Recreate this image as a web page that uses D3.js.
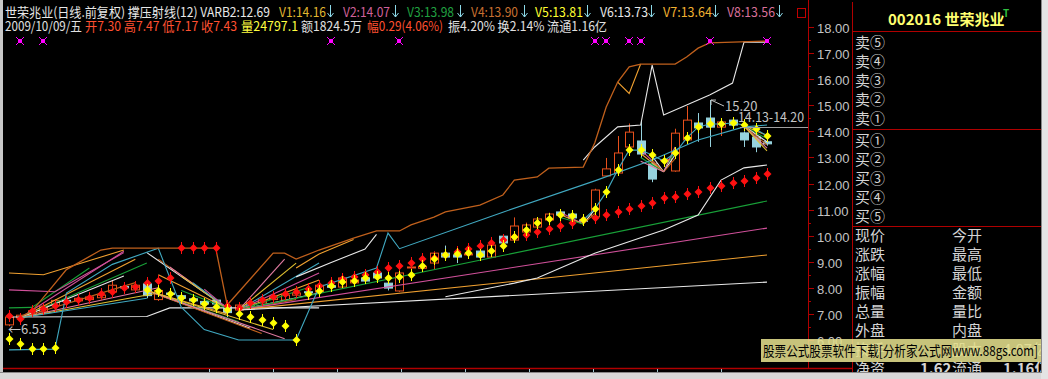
<!DOCTYPE html>
<html>
<head>
<meta charset="utf-8">
<script src="https://cdn.jsdelivr.net/npm/d3@7"></script>
<style>
  html, body { margin: 0; padding: 0; background: #000; overflow: hidden; }
  text { font-family: 'Noto Sans CJK SC', 'DejaVu Sans', sans-serif; }
</style>
</head>
<body>
<svg id="chart" width="1048" height="379"></svg>
<script>
// ---- données ----
const opens  = [6.58,6.85,7.00,7.08,7.33,7.52,7.50,7.55,7.62,7.84,8.05,7.92,8.15,7.55,7.80,7.70,7.58,7.48,7.53,7.27,7.15,7.30,7.42,7.55,7.53,7.72,7.85,7.84,8.08,8.03,8.19,8.38,8.57,8.18,7.88,8.78,8.75,8.95,9.33,9.26,9.28,9.41,9.18,9.98,9.83,10.14,10.33,10.60,10.91,10.83,10.60,10.72,12.29,12.40,13.40,13.63,12.75,12.90,12.48,13.67,14.32,14.51,14.16,14.43,13.94,13.78,13.60]
const highs  = [6.92,7.00,7.18,7.35,7.56,7.58,7.65,7.70,7.76,8.30,8.12,8.15,8.20,7.95,7.85,7.74,7.62,7.52,7.56,7.30,7.40,7.47,7.60,7.70,7.76,7.85,7.90,8.15,8.12,8.42,8.35,8.45,8.80,8.22,8.62,8.95,8.90,9.40,9.62,9.30,9.35,9.45,9.95,10.05,10.70,10.50,10.70,10.88,10.95,10.88,10.70,11.80,12.98,13.82,14.30,14.43,12.80,13.00,14.10,14.97,14.70,15.20,14.38,14.50,14.00,13.85,13.65]
const lows   = [6.53,6.80,6.98,7.05,7.30,7.44,7.46,7.52,7.58,7.80,7.94,7.88,7.60,7.50,7.65,7.55,7.45,7.33,7.33,6.88,7.10,7.17,7.40,7.50,7.50,7.68,7.75,7.80,7.95,8.00,8.12,8.20,8.35,7.90,7.85,8.55,8.70,8.70,9.15,8.95,9.22,9.12,9.15,9.65,9.80,10.10,10.30,10.55,10.75,10.60,10.50,10.70,12.25,12.35,13.35,12.98,12.05,12.80,12.45,13.60,13.60,13.40,13.82,14.15,13.40,13.20,13.45]
const closes = [6.88,6.95,7.12,7.30,7.52,7.48,7.60,7.65,7.72,8.10,8.00,8.10,7.70,7.90,7.75,7.60,7.50,7.38,7.38,7.05,7.34,7.43,7.55,7.65,7.72,7.80,7.82,8.10,8.02,8.38,8.30,8.26,8.38,7.99,8.57,8.80,8.82,9.33,9.18,9.18,9.30,9.18,9.64,9.72,10.37,10.41,10.64,10.83,10.79,10.68,10.55,11.75,12.56,13.17,13.97,13.13,12.17,12.92,13.93,14.43,14.13,14.16,14.36,14.24,13.67,13.40,13.52]

// points rouges et jaunes
const redDots = [6.92,6.80,7.11,7.19,7.30,7.46,7.53,7.61,7.76,7.84,7.99,8.03,8.18,8.26,8.38,9.52,9.52,9.52,9.52,7.30,7.23,7.42,7.53,7.65,7.76,7.84,7.95,8.07,8.18,8.34,8.41,8.49,8.61,8.76,8.84,8.95,9.10,9.14,9.26,9.37,9.49,9.60,9.72,9.83,9.95,10.02,10.14,10.25,10.37,10.48,10.60,10.68,10.79,10.91,11.02,11.14,11.25,11.44,11.48,11.60,11.67,11.83,11.90,12.02,12.10,12.21,12.36]
const yellowDots = [6.04,5.85,5.65,5.65,5.69,null,null,null,null,null,null,null,7.92,7.88,7.76,7.61,7.53,7.38,7.26,7.15,7.00,6.88,6.77,6.65,6.54,6.00,7.76,7.88,8.07,8.22,8.26,8.38,8.42,8.38,8.42,8.49,8.84,9.10,9.26,9.28,9.33,9.26,9.41,9.60,9.95,10.22,10.48,10.64,10.79,10.75,10.60,11.02,11.67,12.52,13.28,13.28,13.09,12.86,13.17,13.74,14.16,14.28,14.28,14.32,14.24,14.09,13.82]
const markerDays = [1,3,28,34,51,52,54,55,61,66]
const markerValue = 17.46

// lignes (jour, valeur)
const brownLine = [[1,6.9],[2,7.1],[5,8.7],[8,9.45],[9,9.52],[18,9.52],[19,7.34],[23,9.33],[24,9.33],[25,9.1],[27,9.45],[30,9.91],[32,10.18],[34,10.18],[35,10.41],[37,10.71],[38,10.91],[41,11.17],[43,11.56],[44,12.13],[46,12.25],[47,12.59],[50,12.63],[51,13.55],[52,14.93],[53,15.89],[54,16.47],[55,16.58],[58,16.58],[59,16.85],[60,17.19],[61,17.39],[66,17.46]]
const slowCyan = [[0,5.62],[4,5.65],[5,7.8],[9,8.9],[13,9.52],[15,7.26],[17,6.4],[20,6.0],[25,6.0],[27,8.03],[32,8.76],[33,10.1],[34,9.5],[43,10.9],[51,12.1],[56,12.9],[60,13.67],[64,14.17],[66,14.24]]
const whiteUpper = [[25,8.42],[28,8.96],[31,9.49],[32,10.05]]
const whiteRight = [[50,12.9],[51,13.4],[53,14.17],[55,14.24],[56,16.54],[57,14.63],[61,15.39],[63,15.85],[64,17.42],[66,17.42]]
const whiteLower = [[38,7.66],[44,8.18],[46,8.38],[51,9.33],[57,10.22],[60,10.79],[62,12.13],[64,12.6],[66,12.71]]
const orangeTop = [[53,15.89],[54,15.45],[55,16.58]]
const orangeMid = [[25,8.76],[27,9.3],[30,9.85]]
const leftOrange = [[0,8.57],[3,8.5],[10,9.45]]
const leftPink = [[0,7.92],[4,7.85],[10,9.35]]
const leftGreen = [[0,7.23],[2,7.25],[7,8.76]]
const leftWhite = [[0,6.88],[12,6.9],[14,7.23],[27,7.23]]

// rayons : pivot + extrémités
const pivotA = [1,6.85]
const fanA = [[10,9.40],[11,9.1],[12,8.95],[10,8.45],[11,8.2],[13,8.0],[13,7.8],[12,7.6]]
const pivotB = [19,7.22]
const fanB = [[12,9.35],[13,9.1],[14,8.8],[15,8.45],[16,8.2],[17,7.95],[13,8.5],[15,7.9]]
const pivotC = [12,7.9]
const fanC = [[19,7.0],[20,6.7],[21,6.45],[22,6.25],[24,6.05],[23,6.4]]
const pivotD = [20,7.15]
const fanD = [[24,9.1],[25,8.95],[27,8.95],[27,8.57],[27,8.3],[26,8.0],[27,7.8],[25,7.55]]
const longRays = [[66,11.33],[66,10.29],[66,9.26],[66,8.22]]
const pivotE = [57,12.45]
const fanEin = [[55,13.3],[55,13.15],[55,13.0],[56,13.05],[56,12.9],[55,12.85]]
const fanEout = [[58,13.25],[58,13.1],[58,12.95],[58,13.4]]
const pivotF = [64,14.2]
const fanF = [[66,13.85],[66,13.72],[66,13.6],[66,13.48],[66,13.36],[66,13.25]]
const pivotG = [50,10.45]
const fanGin = [[48,10.9],[48,10.8],[48,10.7]]
const fanGout = [[51,11.0],[51,10.85]]

const priceTicks = d3.range(6, 19)
const titleParts = [
    { t: '世荣兆业(日线.前复权) 撑压射线(12) VARB2:12.69', x: 5, w: 265, c: '#e8e8e8' },
    { t: 'V1:14.16', x: 279, w: 47, c: '#e0b830' },
    { t: 'V2:14.07', x: 343, w: 47, c: '#d0609a' },
    { t: 'V3:13.98', x: 407, w: 47, c: '#20a040' },
    { t: 'V4:13.90', x: 471, w: 47, c: '#c87030' },
    { t: 'V5:13.81', x: 535, w: 48, c: '#ffff30' },
    { t: 'V6:13.73', x: 600, w: 48, c: '#e8e8e8' },
    { t: 'V7:13.64', x: 663, w: 49, c: '#f0b030' },
    { t: 'V8:13.56', x: 727, w: 48, c: '#d8709a' },
]
const arrowsX = [330, 395, 460, 524, 587, 651, 715, 779]
const infoParts = [
    { t: '2009/10/09/五', x: 5, w: 77, c: '#e0e0e0' },
    { t: '开7.30 高7.47 低7.17 收7.43', x: 85, w: 152, c: '#ff5030' },
    { t: '量24797.1', x: 241, w: 57, c: '#ffff40' },
    { t: '额1824.5万', x: 301, w: 61, c: '#e0e0e0' },
    { t: '幅0.29(4.06%)', x: 367, w: 76, c: '#ff5030' },
    { t: '振4.20% 换2.14% 流通1.16亿', x: 448, w: 159, c: '#e0e0e0' },
]
const askLabels = ['卖⑤', '卖④', '卖③', '卖②', '卖①']
const bidLabels = ['买①', '买②', '买③', '买④', '买⑤']
const quoteLeft = ['现价', '涨跌', '涨幅', '振幅', '总量', '外盘', '换手', '净资']
const quoteRight = ['今开', '最高', '最低', '金额', '量比', '内盘', '股本', '流通']

// ---- dessin ----
const svg = d3.select('#chart')
svg.append('rect').attr('width', 1048).attr('height', 379).attr('fill', '#000')

const x = d3.scaleLinear().domain([0, 66]).range([9, 767])
const y = d3.scaleLinear().domain([6, 18]).range([340, 27])
const line = d3.line().x(d => x(d[0])).y(d => y(d[1]))
const days = d3.range(opens.length)

svg.append('defs').append('clipPath').attr('id', 'clip')
    .append('rect').attr('x', 3).attr('y', 34).attr('width', 805).attr('height', 334)

const plot = svg.append('g').attr('clip-path', 'url(#clip)')

const C = {
    pink: '#d0509a', orange: '#f0a030', green: '#18a038', white: '#e8e8e8',
    brown: '#c0601c', cyan: '#40a8c0', gold: '#e0c030', pink2: '#e07aa0', yellow: '#ffff40'
}
const fanPalette = [C.pink, C.orange, C.green, C.white, C.brown, C.pink2, C.gold, C.cyan]

// bougies
const gCandles = plot.append('g')
days.forEach(i => {
    const cx = Math.round(x(i)) + 0.5
    const up = closes[i] >= opens[i]
    const col = up ? '#e8501c' : '#96d2de'
    gCandles.append('line').attr('x1', cx).attr('x2', cx)
        .attr('y1', y(highs[i])).attr('y2', y(lows[i]))
        .attr('stroke', col).attr('stroke-width', 1)
    const top = y(Math.max(opens[i], closes[i]))
    const h = Math.max(1, y(Math.min(opens[i], closes[i])) - top)
    gCandles.append('rect').attr('x', cx - 4).attr('y', top).attr('width', 8).attr('height', h)
        .attr('fill', up ? '#000' : col).attr('stroke', col).attr('stroke-width', 1)
})

// lignes
const lines = plot.append('g').attr('fill', 'none')
const drawLine = (pts, col, w) => lines.append('path').attr('d', line(pts)).attr('stroke', col).attr('stroke-width', w || 1.1)

drawLine(leftWhite, C.white)
drawLine(leftGreen, C.green)
drawLine(leftPink, C.pink)
drawLine(leftOrange, C.orange)
fanA.forEach((p, k) => drawLine([pivotA, p], fanPalette[k % 8]))
fanB.forEach((p, k) => drawLine([p, pivotB], fanPalette[(k + 3) % 8]))
fanC.forEach((p, k) => drawLine([pivotC, p], fanPalette[(k + 1) % 8]))
fanD.forEach((p, k) => drawLine([pivotD, p], fanPalette[(k + 5) % 8]))
const rayCols = [C.green, C.pink, C.orange, C.white]
longRays.forEach((p, k) => drawLine([pivotD, p], rayCols[k]))
fanGin.forEach((p, k) => drawLine([p, pivotG], fanPalette[k]))
fanGout.forEach((p, k) => drawLine([pivotG, p], fanPalette[k + 3]))
fanEin.forEach((p, k) => drawLine([p, pivotE], fanPalette[k % 8]))
fanEout.forEach((p, k) => drawLine([pivotE, p], fanPalette[(k + 2) % 8]))
fanF.forEach((p, k) => drawLine([pivotF, p], fanPalette[(k + 1) % 8]))
drawLine(whiteLower, C.white)
drawLine(whiteUpper, C.white)
drawLine(whiteRight, C.white)
drawLine(orangeMid, C.orange)
drawLine(orangeTop, C.orange)
drawLine(slowCyan, C.cyan)
drawLine(brownLine, C.brown, 1.3)
// ligne rapide cyan à travers les points jaunes
drawLine(days.filter(i => i >= 50).map(i => [i, yellowDots[i]]), C.cyan)

// diamants
const diamond = 'M0.5,-4L4.5,0L0.5,4L-3.5,0Z'
const dots = (vals, col) => {
    const g = plot.append('g')
    days.forEach(i => {
        if (vals[i] == null) return
        const gg = g.append('g').attr('transform', `translate(${Math.round(x(i))},${Math.round(y(vals[i]))})`)
        gg.append('line').attr('x1', 0.5).attr('x2', 0.5).attr('y1', -6).attr('y2', 6).attr('stroke', col)
        gg.append('path').attr('d', diamond).attr('fill', col)
    })
}
dots(redDots, '#ff1010')
dots(yellowDots, '#ffff00')

// croix magenta en haut
markerDays.forEach(d => {
    const g = plot.append('g').attr('transform', `translate(${Math.round(x(d))},${Math.round(y(markerValue))})`)
    g.append('rect').attr('x', -2).attr('y', -2).attr('width', 4).attr('height', 4).attr('fill', '#ff00ff')
    g.append('path').attr('d', 'M-4,-4L4,4M4,-4L-4,4').attr('stroke', '#ff00ff').attr('stroke-width', 1)
})

// annotations
const gray = '#c4c4c4'
plot.append('text').attr('x', 8).attr('y', 334).attr('fill', gray).attr('font-size', 13).text('←6.53')
const hx = Math.round(x(61)), hy = y(15.20)
plot.append('path').attr('d', `M${hx + 1},${hy} L${hx + 14},${hy + 6} M${hx + 1},${hy} l0,5 M${hx + 1},${hy} l5,0`)
    .attr('stroke', gray).attr('fill', 'none')
plot.append('text').attr('x', hx + 15).attr('y', hy + 11).attr('fill', gray).attr('font-size', 13).text('15.20')
svg.append('line').attr('x1', 740).attr('x2', 808).attr('y1', Math.round(y(14.16)) + 0.5).attr('y2', Math.round(y(14.16)) + 0.5)
    .attr('stroke', '#a0a0a0')
plot.append('text').attr('x', 738).attr('y', 122).attr('fill', gray).attr('font-size', 13)
    .attr('textLength', 66).attr('lengthAdjust', 'spacingAndGlyphs').text('14.13-14.20')

// axe des prix
const red = '#b00000'
svg.append('line').attr('x1', 808.5).attr('x2', 808.5).attr('y1', 0).attr('y2', 369).attr('stroke', red)
priceTicks.forEach(v => {
    const yy = Math.round(y(v)) + 0.5
    svg.append('line').attr('x1', 808).attr('x2', 814).attr('y1', yy).attr('y2', yy).attr('stroke', red)
    svg.append('text').attr('x', 817).attr('y', yy + 5).attr('fill', gray)
        .attr('font-size', 13).style('font-family', "'Liberation Sans', Arial, sans-serif").text(v.toFixed(2))
})
d3.range(6.5, 18, 1).forEach(v => {
    const yy = Math.round(y(v)) + 0.5
    svg.append('line').attr('x1', 808).attr('x2', 811).attr('y1', yy).attr('y2', yy).attr('stroke', red)
})
svg.append('line').attr('x1', 3).attr('x2', 852).attr('y1', 368.5).attr('y2', 368.5).attr('stroke', red).attr('stroke-width', 1.5)
d3.range(209, 760, 64).forEach(px => {
    svg.append('line').attr('x1', px + 0.5).attr('x2', px + 0.5).attr('y1', 369).attr('y2', 372).attr('stroke', '#a0c8d0')
})

// titres
const title = svg.append('g').attr('font-size', 13)
titleParts.forEach(p => title.append('text').attr('x', p.x).attr('y', 17).attr('fill', p.c)
    .attr('textLength', p.w).attr('lengthAdjust', 'spacingAndGlyphs').text(p.t))
infoParts.forEach(p => title.append('text').attr('x', p.x).attr('y', 31).attr('fill', p.c)
    .attr('textLength', p.w).attr('lengthAdjust', 'spacingAndGlyphs').text(p.t))
arrowsX.forEach(ax => title.append('path')
    .attr('d', `M${ax + 0.5},5V17M${ax - 2.5},13L${ax + 0.5},17L${ax + 3.5},13`)
    .attr('stroke', '#8cd8e8').attr('fill', 'none'))
svg.append('rect').attr('x', 797.5).attr('y', 8.5).attr('width', 8).attr('height', 9)
    .attr('fill', 'none').attr('stroke', '#c00000')

// panneau de droite
const panel = svg.append('g')
panel.append('line').attr('x1', 852.5).attr('x2', 852.5).attr('y1', 2).attr('y2', 372).attr('stroke', red)
;[31, 129, 226].forEach(yy => panel.append('line').attr('x1', 852).attr('x2', 1042)
    .attr('y1', yy + 0.5).attr('y2', yy + 0.5).attr('stroke', red))
panel.append('text').attr('x', 888).attr('y', 25).attr('fill', '#ffff70').attr('font-size', 15)
    .attr('font-weight', 'bold').text('002016 世荣兆业')
panel.append('text').attr('x', 1003).attr('y', 17).attr('fill', '#30c040').attr('font-size', 10)
    .attr('font-weight', 'bold').text('T')
const ptext = (t, px, py) => panel.append('text').attr('x', px).attr('y', py).attr('fill', '#d4d4d4')
    .attr('font-size', 15).text(t)
askLabels.forEach((t, k) => ptext(t, 855, 48 + k * 19))
bidLabels.forEach((t, k) => ptext(t, 855, 146 + k * 19))
quoteLeft.forEach((t, k) => ptext(t, 855, 241 + k * 19))
quoteRight.forEach((t, k) => ptext(t, 952, 241 + k * 19))
ptext('1.62', 920, 374).attr('font-weight', 'bold')
ptext('4.07亿', 1003, 355)
ptext('1.16亿', 1003, 374).attr('font-weight', 'bold')

// bandeau publicitaire
svg.append('rect').attr('x', 761).attr('y', 339).attr('width', 281).attr('height', 23)
    .attr('fill', 'rgba(226,222,140,0.88)')
svg.append('text').attr('x', 763).attr('y', 356).attr('fill', '#000').attr('font-size', 14)
    .attr('textLength', 275).attr('lengthAdjust', 'spacingAndGlyphs')
    .text('股票公式股票软件下载[分析家公式网www.88gs.com]')

// bordure fenêtre
svg.append('rect').attr('x', 0).attr('y', 0).attr('width', 3).attr('height', 379).attr('fill', '#c8c8c8')
svg.append('rect').attr('x', 0).attr('y', 372).attr('width', 1048).attr('height', 7).attr('fill', '#d8d8d8')
svg.append('rect').attr('x', 1041).attr('y', 0).attr('width', 7).attr('height', 379).attr('fill', '#e4e4e4')
svg.append('line').attr('x1', 0).attr('x2', 1041).attr('y1', 372.5).attr('y2', 372.5).attr('stroke', '#888')
svg.append('line').attr('x1', 1041.5).attr('x2', 1041.5).attr('y1', 0).attr('y2', 373).attr('stroke', '#888')
</script>
</body>
</html>
